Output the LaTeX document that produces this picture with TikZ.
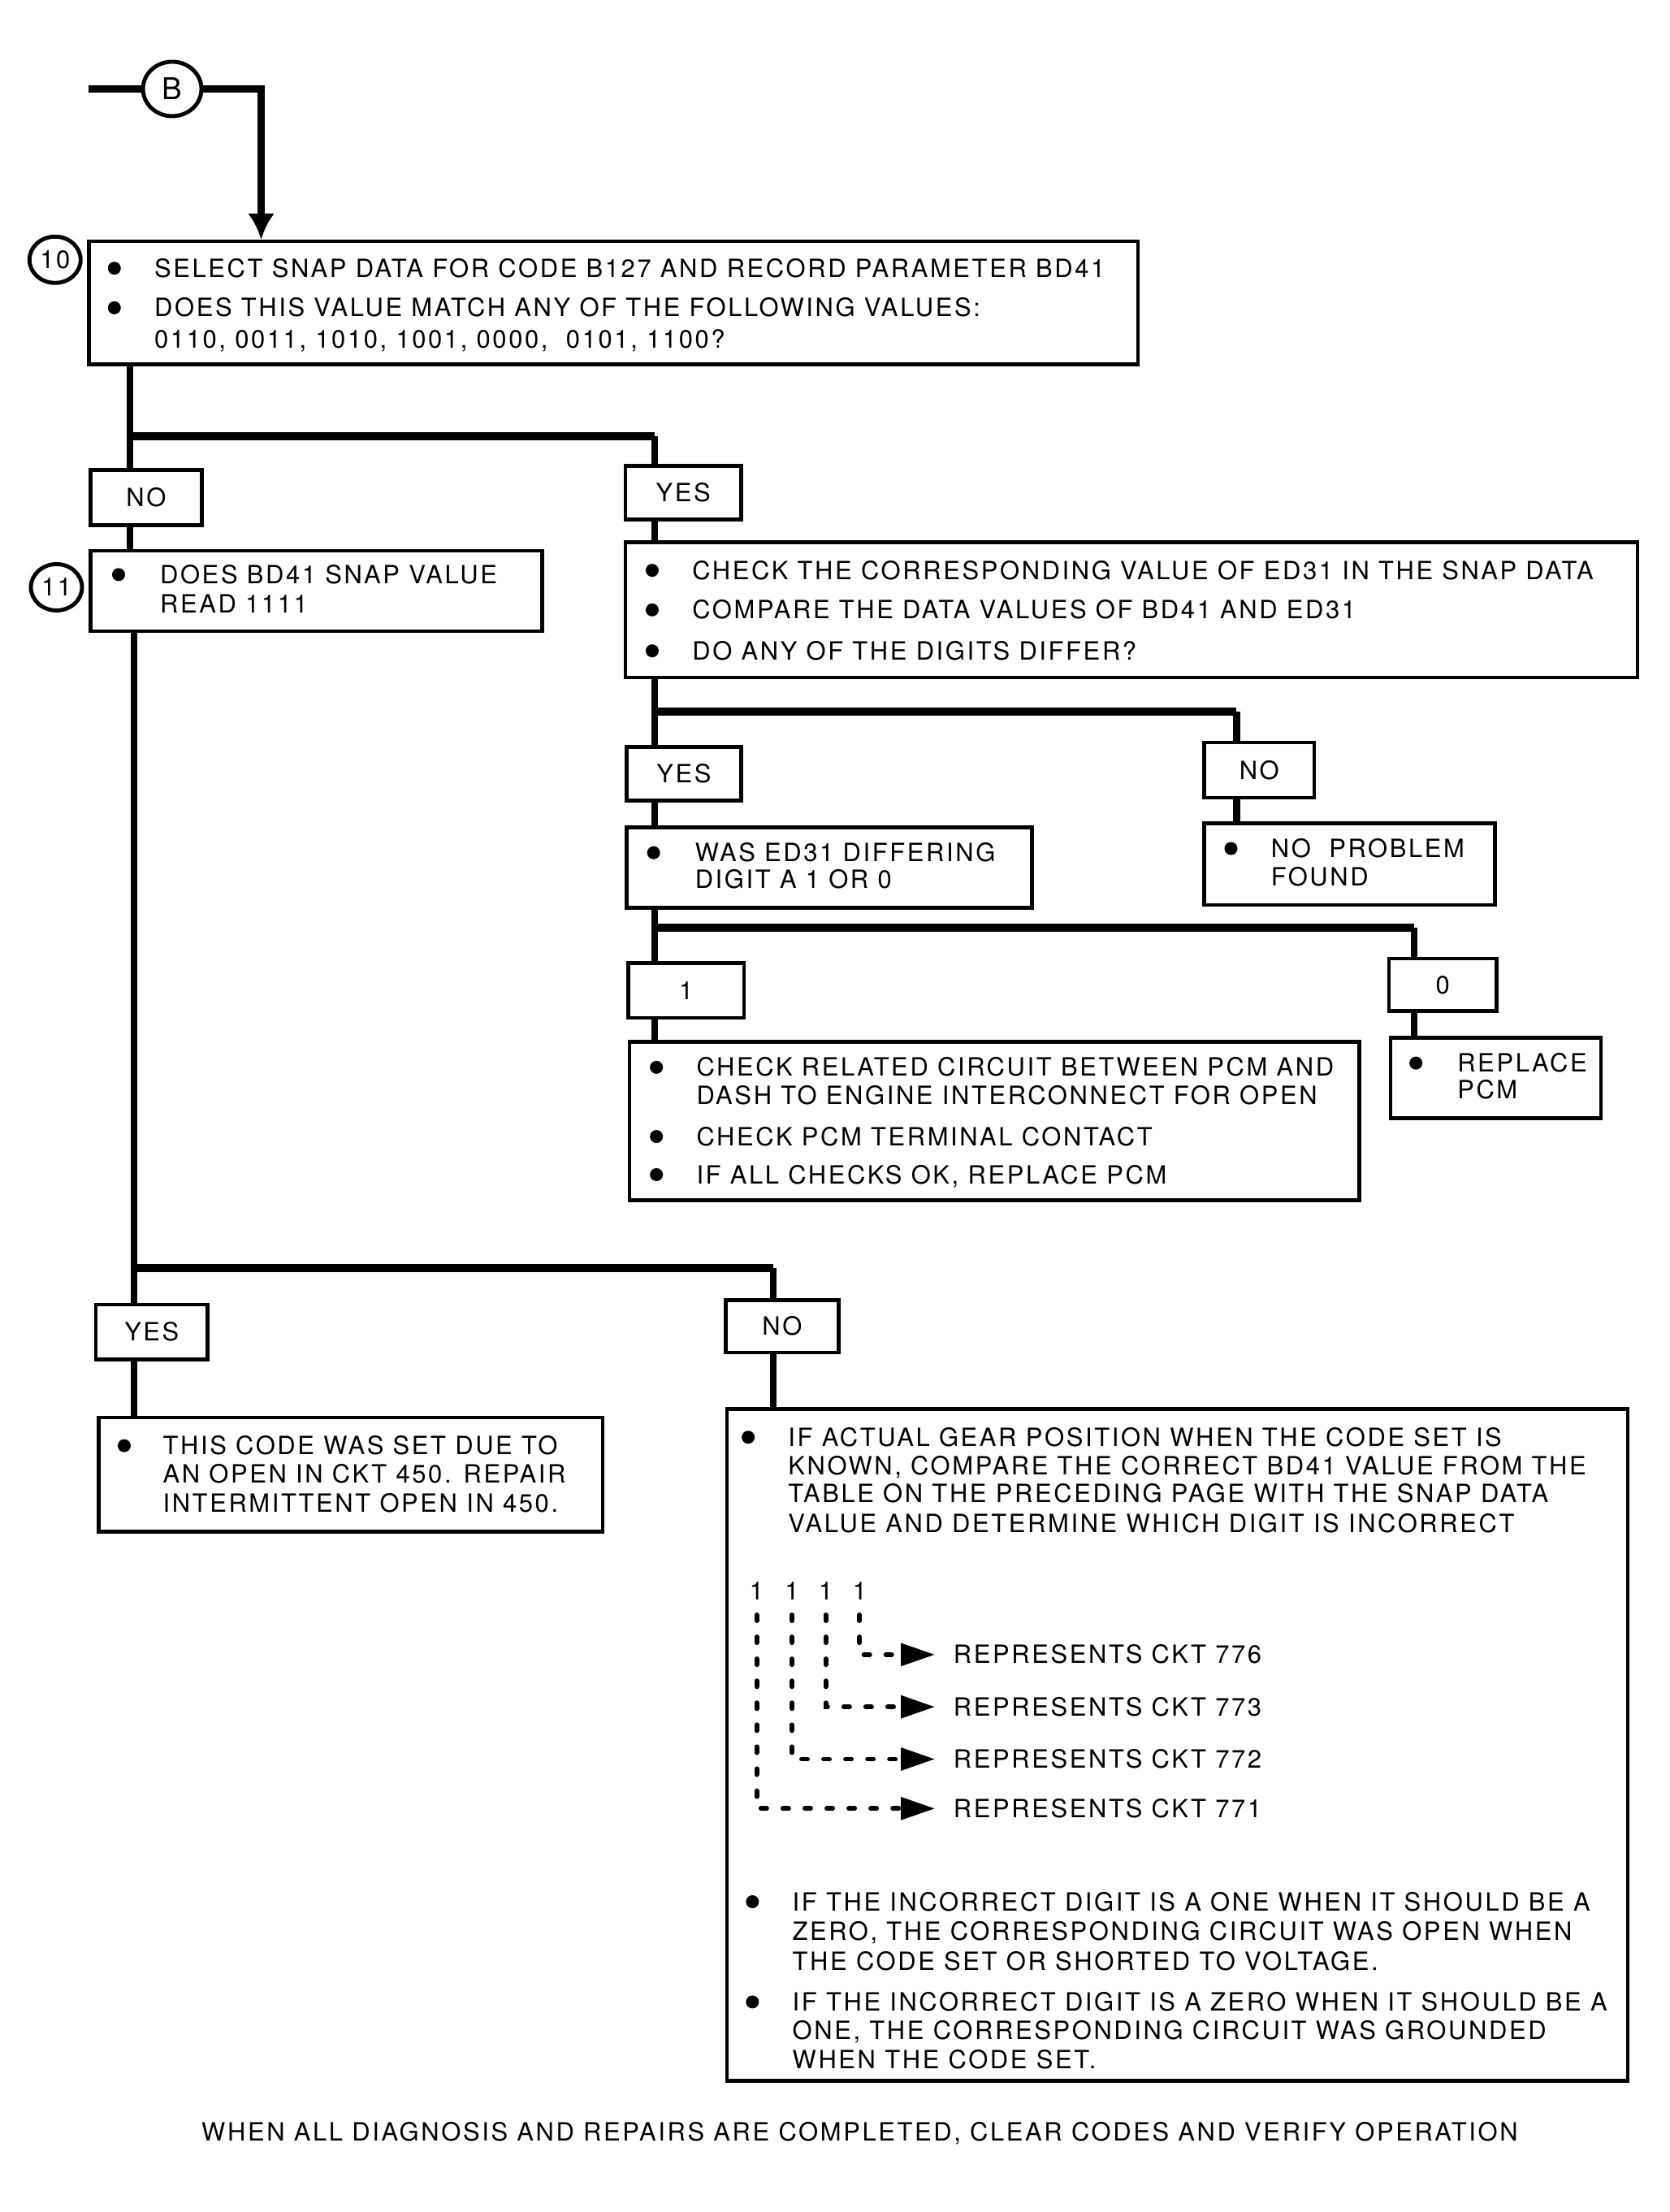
\documentclass[tikz,border=0pt]{standalone}
\usepackage{fontspec}
\setmainfont{TeX Gyre Heros}[LetterSpace=8.5]
\usetikzlibrary{fit,arrows.meta,shapes.geometric}

\tikzset{
	box/.style={draw, line width=1.3pt, inner sep=0pt},
	ans/.style={box, label={[inner sep=0pt, text height=6.3pt, text depth=0pt]center:#1}},
	txt/.style={right, inner sep=0pt, text height=6.3pt, text depth=0pt},
	dot/.style={inner sep=0pt, text height=6.3pt, text depth=0pt},
	blt/.style={circle, fill, inner sep=0pt, minimum size=0.16cm},
	flow/.style={line width=2.3pt},
	branch/.style={line width=2.8pt},
	stepmark/.style={draw, ellipse, line width=1.4pt, inner sep=0pt, minimum width=0.63cm, minimum height=0.57cm},
	dotline/.style={line width=1.7pt, line cap=round, dash pattern=on 2pt off 5.7pt, shorten <=5pt, shorten >=0.22cm,
		-{Triangle[length=0.42cm, width=0.27cm]}}
}

\begin{document}
\begin{tikzpicture}[x=0.01738cm, y=-0.01738cm, font=\fontsize{8.8}{10}\selectfont]
	\useasboundingbox (0,0) rectangle (1183,1566.8);

	% Entry B
	\node[stepmark, minimum width=0.72cm, minimum height=0.67cm, font=\fontsize{10.5}{12}\selectfont] (B) at (122,63) {B};
	\coordinate (bin) at (63,63);
	\coordinate (bturn) at (185,63);

	% Step 10
	\node[box, fit={(63,171) (806,258)}] (q10) {};
	\node[stepmark] (m10) at (39,184) {10};
	\path (81,190) node[blt]{} (109,190) node[txt]{SELECT SNAP DATA FOR CODE B127 AND RECORD PARAMETER BD41};
	\path (81,218) node[blt]{} (109,218) node[txt]{DOES THIS VALUE MATCH ANY OF THE FOLLOWING VALUES:};
	\path (109,240) node[txt]{0110, 0011, 1010, 1001, 0000,\ \ 0101, 1100?};

	\node[ans=NO, fit={(64,333) (143,372)}] (no1) {};
	\node[ans=YES, fit={(443,330) (525,368)}] (yes1) {};

	% Step 11
	\node[box, fit={(64,390) (384,447)}] (q11) {};
	\node[stepmark] (m11) at (40,416) {11};
	\path (84,407) node[blt]{} (113,407) node[txt]{DOES BD41 SNAP VALUE};
	\path (113,428) node[txt]{READ 1111};

	% Compare ED31
	\node[box, fit={(443,384) (1160,480)}] (q12) {};
	\path (462,404) node[blt]{} (490,404) node[txt]{CHECK THE CORRESPONDING VALUE OF ED31 IN THE SNAP DATA};
	\path (462,432) node[blt]{} (490,432) node[txt]{COMPARE THE DATA VALUES OF BD41 AND ED31};
	\path (462,461) node[blt]{} (490,461) node[txt]{DO ANY OF THE DIGITS DIFFER?};

	\node[ans=YES, fit={(444,529) (525,567)}] (yes2) {};
	\node[ans=NO, fit={(853,526) (931,565)}] (no2) {};

	\node[box, fit={(444,586) (731,643)}] (q13) {};
	\path (463,604) node[blt]{} (492,604) node[txt]{WAS ED31 DIFFERING};
	\path (492,623) node[txt]{DIGIT A 1 OR 0};

	\node[box, fit={(853,583) (1059,641)}] (r1) {};
	\path (872,601) node[blt]{} (900,601) node[txt]{NO\ \ PROBLEM};
	\path (900,621) node[txt]{FOUND};

	\node[ans=1, fit={(445,682) (527,721)}] (one) {};
	\node[ans=0, fit={(984,679) (1060,716)}] (zero) {};

	\node[box, fit={(446,738) (963,850)}] (q14) {};
	\path (465,756) node[blt]{} (493,756) node[txt]{CHECK RELATED CIRCUIT BETWEEN PCM AND};
	\path (493,776) node[txt]{DASH TO ENGINE INTERCONNECT FOR OPEN};
	\path (465,805) node[blt]{} (493,805) node[txt]{CHECK PCM TERMINAL CONTACT};
	\path (465,832) node[blt]{} (493,832) node[txt]{IF ALL CHECKS OK, REPLACE PCM};

	\node[box, fit={(985,735) (1134,792)}] (r2) {};
	\path (1003,753) node[blt]{} (1032,753) node[txt]{REPLACE};
	\path (1032,772) node[txt]{PCM};

	% Result of step 11
	\node[ans=YES, fit={(68,924) (147,963)}] (yes3) {};
	\node[ans=NO, fit={(514,921) (594,958)}] (no3) {};

	\node[box, fit={(70,1004) (427,1085)}] (r3) {};
	\path (88,1024) node[blt]{} (115,1024) node[txt]{THIS CODE WAS SET DUE TO};
	\path (115,1044) node[txt]{AN OPEN IN CKT 450. REPAIR};
	\path (115,1065) node[txt]{INTERMITTENT OPEN IN 450.};

	\node[box, fit={(515,998) (1153,1474)}] (q15) {};
	\path (530,1018) node[blt]{} (558,1018) node[txt]{IF ACTUAL GEAR POSITION WHEN THE CODE SET IS};
	\path (558,1038) node[txt]{KNOWN, COMPARE THE CORRECT BD41 VALUE FROM THE};
	\path (558,1058) node[txt]{TABLE ON THE PRECEDING PAGE WITH THE SNAP DATA};
	\path (558,1079) node[txt]{VALUE AND DETERMINE WHICH DIGIT IS INCORRECT};

	\node[dot] (d1) at (536,1127) {1};
	\node[dot] (d2) at (561,1127) {1};
	\node[dot] (d3) at (585,1127) {1};
	\node[dot] (d4) at (609,1127) {1};
	\node[txt] (c776) at (675,1172) {REPRESENTS CKT 776};
	\node[txt] (c773) at (675,1209) {REPRESENTS CKT 773};
	\node[txt] (c772) at (675,1246) {REPRESENTS CKT 772};
	\node[txt] (c771) at (675,1281) {REPRESENTS CKT 771};

	\path (533,1347) node[blt]{} (561,1347) node[txt]{IF THE INCORRECT DIGIT IS A ONE WHEN IT SHOULD BE A};
	\path (561,1368) node[txt]{ZERO, THE CORRESPONDING CIRCUIT WAS OPEN WHEN};
	\path (561,1389) node[txt]{THE CODE SET OR SHORTED TO VOLTAGE.};
	\path (533,1418) node[blt]{} (561,1418) node[txt]{IF THE INCORRECT DIGIT IS A ZERO WHEN IT SHOULD BE A};
	\path (561,1438) node[txt]{ONE, THE CORRESPONDING CIRCUIT WAS GROUNDED};
	\path (561,1459) node[txt]{WHEN THE CODE SET.};

	\node[dot] (foot) at (609,1510) {WHEN ALL DIAGNOSIS AND REPAIRS ARE COMPLETED, CLEAR CODES AND VERIFY OPERATION};

	% Connections
	\coordinate (a1) at (92,309);
	\coordinate (a2) at (464,309);
	\coordinate (b1) at (464,504);
	\coordinate (b2) at (876,504);
	\coordinate (c1) at (464,657);
	\coordinate (c2) at (1002,657);
	\coordinate (e1) at (95,898);
	\coordinate (e2) at (548,898);

	\draw[line width=2.6pt] (bin) -- (B.west);
	\draw[line width=2.6pt, -{Latex[length=0.32cm, width=0.33cm]}] (B.east) -- (bturn) -- (bturn |- q10.north);

	\draw[flow] (q10.south -| a1) -- (no1.north -| a1);
	\draw[branch] (a1) -- (a2);
	\draw[flow] (a2) -- (yes1.north -| a2);
	\draw[flow] (no1.south -| a1) -- (q11.north -| a1);
	\draw[flow] (yes1.south -| a2) -- (q12.north -| a2);

	\draw[flow] (q12.south -| b1) -- (yes2.north -| b1);
	\draw[branch] (b1) -- (b2);
	\draw[flow] (b2) -- (no2.north -| b2);
	\draw[flow] (yes2.south -| b1) -- (q13.north -| b1);
	\draw[flow] (no2.south -| b2) -- (r1.north -| b2);

	\draw[flow] (q13.south -| c1) -- (one.north -| c1);
	\draw[branch] (c1) -- (c2);
	\draw[flow] (c2) -- (zero.north -| c2);
	\draw[flow] (one.south -| c1) -- (q14.north -| c1);
	\draw[flow] (zero.south -| c2) -- (r2.north -| c2);

	\draw[flow] (q11.south -| e1) -- (yes3.north -| e1);
	\draw[branch] (e1) -- (e2);
	\draw[flow] (e2) -- (no3.north -| e2);
	\draw[flow] (yes3.south -| e1) -- (r3.north -| e1);
	\draw[flow] (no3.south -| e2) -- (q15.north -| e2);

	% Digit leaders
	\draw[dotline] (d4.south) |- (c776.west);
	\draw[dotline] (d3.south) |- (c773.west);
	\draw[dotline] (d2.south) |- (c772.west);
	\draw[dotline] (d1.south) |- (c771.west);
\end{tikzpicture}
\end{document}
